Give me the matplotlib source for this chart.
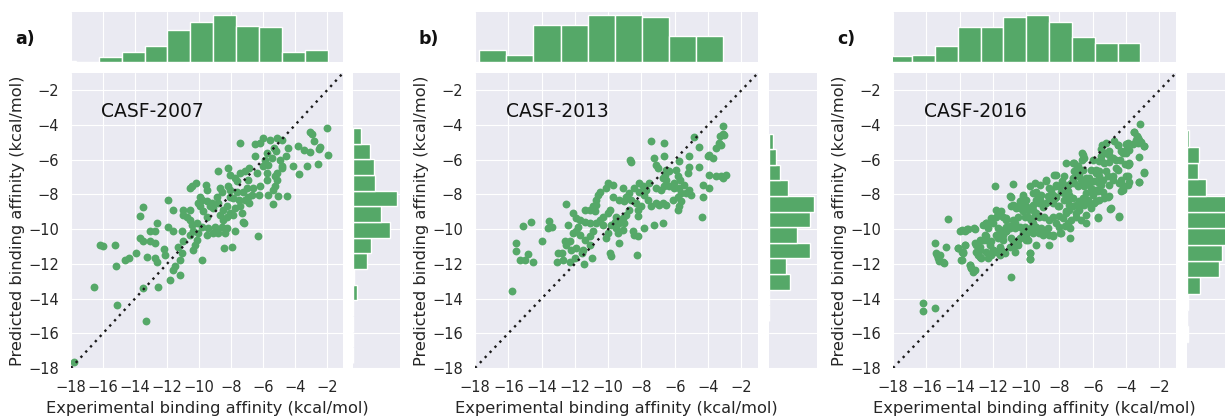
import numpy as np
import matplotlib
matplotlib.use("Agg")
import matplotlib.pyplot as plt
import seaborn as sns

# ---------------- data ----------------
panel_letters = ["a)", "b)", "c)"]
panel_names = ["CASF-2007", "CASF-2013", "CASF-2016"]

a_exp = [-1.98,-3.06,-2.96,-2.8,-2.44,-2.5,-1.92,-3.44,-3.06,-2.54,-3.27,-4.1,-3.73,-3.79,-4.42,-4.56,-4.94,-4.83,-4.8,-5.15,
         -5.1,-4.8,-5.56,-5.98,-5.3,-5.2,-5.77,-5.42,-5.87,-5.67,-5.25,-5.77,-5.98,-6.5,-6.5,-7.44,-6.19,-6.4,-6.85,-7.12,
         -7.44,-7.75,-8.06,-8.79,-8.2,-6.92,-6.6,-6.19,-5.77,-5.15,-5.25,-5.35,-5.67,-6.23,-5.04,-4.52,-6.71,-7.02,-7.27,-7.65,
         -7.6,-6.92,-7.12,-6.85,-7.48,-7.85,-8.06,-8.17,-8.06,-8.69,-8.58,-8.9,-9.21,-8.79,-9.1,-9.31,-7.44,-7.75,-8.27,-8.48,
         -8.06,-7.85,-7.33,-8.69,-8.27,-7.23,-7.19,-8.48,-5.4,-9.58,-9.52,-10.46,-10.56,-10.19,-9.94,-9.83,-10.04,-9.52,-9.94,-9.73,
         -9.52,-10.56,-10.77,-10.98,-11.02,-11.92,-11.65,-10.56,-10.46,-10.15,-9.83,-9.42,-9.0,-8.9,-8.58,-8.27,-7.75,-8.38,-8.79,-9.1,
         -9.52,-10.04,-10.35,-10.56,-10.15,-10.98,-11.08,-11.6,-11.92,-12.65,-12.75,-13.06,-13.69,-13.52,-13.69,-13.52,-13.06,-12.75,-12.19,-12.13,
         -11.29,-11.08,-11.19,-10.4,-10.25,-9.83,-11.5,-11.6,-11.19,-11.81,-12.54,-12.75,-12.65,-13.27,-13.94,-14.6,-14.4,-15.25,-16.19,-15.98,
         -15.2,-16.56,-15.15,-13.48,-13.31,-17.81,-8.44,-7.96,-6.29]
a_pred = [-4.15,-4.42,-4.5,-4.94,-5.27,-5.4,-5.75,-5.46,-5.54,-6.23,-6.38,-6.38,-6.8,-5.23,-5.33,-5.81,-6.0,-6.38,-6.48,-6.77,
          -4.75,-4.85,-4.85,-4.75,-5.33,-5.52,-5.62,-5.9,-6.0,-6.29,-6.96,-6.77,-6.38,-5.81,-5.08,-5.04,-5.04,-6.77,-6.48,-6.63,
          -6.77,-7.06,-6.87,-6.67,-6.48,-7.15,-7.63,-7.54,-7.15,-7.15,-7.54,-7.73,-8.02,-8.02,-8.08,-8.08,-8.02,-7.63,-7.83,-7.83,
          -7.25,-8.12,-8.31,-8.5,-8.31,-8.21,-8.12,-7.54,-7.73,-7.63,-7.83,-8.12,-8.5,-8.5,-8.79,-8.69,-8.69,-8.79,-8.69,-8.88,
          -9.08,-9.17,-9.08,-9.17,-9.27,-9.56,-9.65,-9.46,-8.54,-7.44,-7.73,-7.54,-7.63,-7.35,-8.12,-8.31,-8.5,-8.4,-8.69,-8.98,
          -9.27,-8.88,-9.27,-8.88,-9.17,-8.31,-8.88,-9.46,-9.75,-9.65,-9.85,-9.94,-9.85,-10.04,-9.85,-9.94,-10.13,-10.23,-10.23,-10.23,
          -10.33,-10.23,-10.13,-10.33,-10.62,-10.71,-10.13,-10.13,-9.85,-9.65,-10.13,-10.13,-9.23,-8.75,-10.52,-10.71,-10.71,-10.81,-11.15,-11.48,
          -11.0,-11.37,-11.77,-11.19,-10.9,-11.77,-12.15,-12.35,-12.63,-12.92,-13.31,-11.67,-11.87,-11.58,-11.35,-11.77,-11.67,-10.9,-10.9,-10.96,
          -12.1,-13.31,-14.37,-13.4,-15.27,-17.63,-11.1,-11.0,-10.42]

b_exp = [-3.12,-3.12,-3.02,-3.28,-3.32,-3.22,-3.52,-3.68,-4.02,-3.92,-4.52,-4.82,-5.12,-4.52,-5.12,-5.22,-3.92,-3.52,-3.22,-2.92,
         -3.12,-4.32,-3.92,-4.32,-4.36,-5.72,-5.92,-6.32,-6.56,-6.72,-5.82,-5.68,-6.02,-6.32,-6.02,-5.72,-5.42,-5.12,-5.02,-5.32,
         -5.62,-5.82,-6.12,-5.62,-5.72,-5.82,-6.62,-6.66,-7.42,-7.22,-7.12,-7.02,-6.52,-6.52,-6.62,-6.82,-7.12,-7.52,-7.92,-8.12,
         -7.72,-7.82,-8.12,-8.42,-8.72,-8.92,-9.12,-8.62,-9.02,-9.32,-8.32,-8.02,-7.62,-7.42,-7.12,-6.92,-6.72,-6.52,-8.22,-8.72,
         -8.92,-8.22,-9.12,-9.52,-9.92,-10.02,-9.62,-9.32,-9.02,-9.82,-9.52,-9.12,-9.42,-10.02,-10.12,-8.52,-8.42,-8.22,-7.82,-7.22,
         -6.72,-9.35,-9.92,-9.82,-8.28,-9.72,-10.02,-10.12,-10.52,-10.62,-10.72,-10.72,-10.92,-10.82,-11.12,-11.42,-10.32,-10.52,-10.32,-10.72,
         -11.12,-10.92,-11.12,-11.42,-11.72,-11.92,-12.12,-11.82,-11.92,-12.12,-11.72,-11.42,-11.12,-11.52,-11.92,-12.22,-12.52,-12.62,-12.32,-12.42,
         -12.55,-12.8,-13.0,-13.1,-12.7,-12.3,-11.97,-11.47,-11.6,-10.95,-13.55,-13.35,-13.6,-13.95,-14.66,-15.14,-15.54,-15.54,-15.3,-15.0,
         -14.8,-14.54,-15.78,-8.6,-8.7,-9.72]
b_pred = [-4.04,-4.5,-4.56,-4.65,-5.04,-5.13,-5.33,-5.9,-5.81,-5.71,-5.29,-4.71,-5.81,-6.44,-6.44,-6.77,-6.87,-6.92,-6.96,-6.87,
          -7.06,-7.44,-7.63,-8.12,-9.27,-6.1,-6.58,-6.67,-6.87,-7.06,-6.96,-7.15,-7.35,-7.54,-7.63,-7.63,-7.44,-7.73,-8.02,-7.92,
          -7.92,-8.12,-8.31,-8.4,-8.69,-8.88,-5.81,-5.04,-4.9,-5.9,-6.29,-6.48,-6.58,-7.15,-7.54,-7.73,-7.63,-7.35,-7.54,-7.35,
          -7.73,-8.02,-7.83,-7.63,-7.92,-8.12,-7.63,-8.31,-8.4,-8.31,-8.5,-8.69,-8.31,-8.69,-8.5,-8.6,-8.5,-8.6,-8.88,-8.88,
          -9.17,-9.23,-9.37,-9.27,-8.88,-9.08,-9.56,-9.65,-9.65,-9.75,-9.94,-10.04,-10.23,-10.23,-10.52,-10.13,-10.33,-10.42,-9.94,-9.75,
          -9.65,-10.81,-11.38,-11.54,-11.48,-7.44,-7.35,-7.63,-7.83,-8.02,-8.31,-8.6,-8.69,-8.98,-8.88,-8.88,-9.27,-9.46,-9.75,-9.65,
          -9.65,-10.13,-10.42,-9.56,-9.46,-9.37,-9.08,-9.85,-10.13,-10.23,-10.33,-10.62,-10.9,-11.19,-11.1,-11.19,-10.9,-10.71,-10.71,-9.75,
          -8.54,-11.38,-11.38,-11.92,-11.77,-11.92,-11.67,-11.98,-11.38,-11.67,-9.54,-9.85,-9.94,-10.71,-9.56,-9.81,-10.77,-11.25,-11.77,-11.77,
          -11.44,-11.9,-13.56,-6.15,-6.0,-8.12]

c_exp = [-3.14,-3.5,-3.3,-3.4,-3.1,-2.9,-3.2,-2.9,-3.2,-3.9,-4.0,-4.2,-4.5,-4.7,-5.2,-5.44,-5.5,-5.0,-4.8,-4.34,
         -4.04,-3.8,-4.6,-5.2,-4.8,-3.9,-5.0,-4.3,-4.2,-3.9,-4.16,-5.1,-4.9,-4.4,-5.7,-5.5,-6.0,-5.8,-6.1,-6.6,
         -6.5,-5.6,-5.9,-6.2,-5.5,-5.8,-5.4,-6.0,-6.4,-6.6,-6.8,-6.2,-5.8,-7.1,-6.94,-7.0,-7.6,-6.98,-6.8,-6.4,
         -6.6,-7.1,-6.9,-7.5,-7.6,-8.0,-8.2,-8.3,-8.8,-7.9,-8.4,-8.2,-8.6,-7.4,-7.2,-7.7,-7.2,-7.0,-6.8,-7.4,
         -7.6,-8.0,-8.4,-8.6,-9.2,-9.4,-9.1,-9.4,-9.6,-9.8,-10.2,-10.4,-10.0,-10.4,-10.7,-10.9,-10.8,-11.9,-10.9,-9.6,
         -9.4,-9.2,-8.9,-8.6,-8.4,-8.2,-8.0,-7.5,-7.3,-7.0,-6.4,-8.7,-9.1,-9.4,-9.6,-9.9,-10.2,-10.1,-10.5,-10.8,
         -11.2,-11.5,-11.4,-11.8,-12.0,-12.4,-12.6,-12.3,-11.7,-11.2,-10.7,-10.4,-10.1,-9.8,-10.2,-9.6,-9.2,-9.0,-8.6,-8.4,
         -7.9,-11.2,-11.5,-11.8,-12.4,-12.6,-12.1,-11.4,-10.9,-10.5,-10.0,-10.7,-11.0,-11.5,-11.6,-11.3,-12.0,-12.4,-12.8,-13.1,
         -13.0,-12.8,-12.3,-13.15,-13.5,-13.7,-14.0,-13.7,-13.8,-14.1,-13.9,-13.4,-13.3,-13.2,-14.8,-14.7,-15.5,-15.4,-15.3,-15.0,
         -15.5,-16.2,-16.2,-9.8,-9.8,-9.4,-8.6,-10.9,
         -12.39,-12.09,-11.79,-11.59,-11.19,-10.99,-10.69,-10.99,-10.79,-10.59,-10.29,-10.19,-9.99,-9.89,-9.69,-9.49,-9.59,-9.39,-9.19,-8.99,
         -8.79,-8.69,-9.49,-9.19,-8.83,-8.49,-8.29,-8.19,-8.09,-8.03,-7.80,-7.60,-7.40,-7.50,-7.70,-7.90,-7.70,-8.19,-7.84,-7.50,
         -7.30,-7.20,-7.10,-7.20,-6.90,-6.60,-6.64,-6.64,-6.50,-6.70,-6.40,-6.20,-6.10,-6.00,-6.30,-6.50,-6.80,-7.00,-6.70,-6.40,
         -6.10,-5.90,-5.60,-5.30,-5.70,-5.60,-5.40,-5.10,-4.80,-5.60,-5.80,-5.60,-5.50,-5.30,-5.00,-5.30,-5.04,-4.60,-4.50,-4.30,
         -4.40,-4.20,-4.30,-3.80,-4.00,-3.90,-3.80,-4.00,-3.80,-4.30,-4.50,-4.00,-3.60,-3.30,-2.90,-3.20,-3.36,-3.50,-2.90,-3.20,
         -5.04,-4.96,-5.70,-4.40,
         -13.88,-13.58,-13.09,-15.36,-15.16,-15.26,-14.96,-14.09,-13.88,-13.69,-13.79,-13.88,-13.39,-13.29,-13.09,-12.99,-12.79,-12.89,-12.69,-12.79,
         -12.49,-12.39,-12.19,-11.99,-12.09,-11.79,-11.59,-11.69,-11.39,-11.19,-10.99,-11.49,-10.79,-10.69,-10.49,-10.39,-9.99,-9.89,-9.79,-9.69,
         -9.79,-9.79,-8.89,-8.39,-7.99,-7.69,-7.39,-7.35]
c_pred = [-3.92,-4.42,-4.75,-4.85,-5.0,-5.19,-5.85,-6.77,-7.31,-5.04,-5.42,-5.62,-5.13,-4.94,-5.04,-5.13,-5.38,-5.71,-5.9,-6.0,
          -6.23,-6.23,-6.48,-6.67,-6.96,-6.96,-7.44,-7.35,-7.54,-7.44,-7.73,-8.12,-8.79,-9.27,-9.27,-6.0,-6.0,-6.58,-6.58,-5.71,
          -5.9,-6.96,-7.25,-7.35,-7.44,-7.73,-7.83,-8.02,-7.92,-8.21,-8.4,-8.5,-8.4,-6.19,-6.38,-6.67,-6.19,-6.96,-6.87,-7.06,
          -7.25,-7.35,-7.54,-7.44,-7.83,-7.54,-7.44,-6.87,-7.19,-7.83,-8.02,-8.12,-7.63,-8.02,-8.21,-8.31,-8.69,-8.6,-8.88,-8.88,
          -9.08,-8.69,-8.5,-8.31,-8.5,-8.31,-8.02,-7.83,-7.92,-7.54,-8.12,-8.4,-8.69,-8.79,-8.69,-8.12,-7.41,-7.54,-8.69,-8.88,
          -9.08,-9.27,-9.27,-9.46,-9.27,-9.65,-9.85,-9.65,-9.46,-9.27,-9.62,-9.94,-9.94,-9.85,-9.65,-9.27,-8.98,-9.27,-9.27,-9.46,
          -9.37,-8.98,-9.27,-9.27,-9.65,-9.65,-9.75,-9.94,-9.94,-9.85,-9.94,-9.85,-9.85,-10.04,-10.23,-10.23,-10.23,-10.33,-10.33,-10.42,
          -10.23,-10.13,-10.23,-10.33,-10.42,-10.62,-10.71,-10.62,-10.52,-10.62,-10.62,-10.9,-11.0,-11.19,-11.48,-11.38,-11.19,-11.29,-11.0,-10.81,
          -11.29,-11.58,-11.67,-9.94,-10.0,-10.1,-10.13,-10.9,-11.29,-11.1,-11.77,-12.06,-12.25,-12.44,-11.0,-9.42,-10.81,-11.38,-11.67,-11.92,
          -14.56,-14.23,-14.71,-11.38,-11.73,-10.9,-10.9,-12.73,
          -9.65,-9.36,-8.88,-9.17,-9.46,-9.84,-9.65,-8.11,-8.59,-8.78,-8.50,-8.01,-8.30,-8.88,-9.46,-9.17,-8.59,-7.92,-8.30,-8.73,
          -8.50,-8.11,-7.34,-7.44,-7.25,-7.73,-8.21,-7.53,-8.69,-9.26,-9.38,-8.98,-8.59,-8.30,-7.92,-7.44,-6.96,-6.86,-7.25,-7.82,
          -7.34,-7.05,-6.67,-6.19,-6.38,-6.57,-5.61,-6.00,-7.53,-7.15,-7.25,-7.05,-7.63,-7.92,-8.30,-8.59,-8.69,-9.07,-9.46,-9.17,
          -8.78,-8.50,-8.30,-8.21,-7.82,-7.34,-7.15,-6.96,-7.15,-6.67,-6.77,-6.09,-5.80,-5.61,-5.52,-6.19,-6.15,-6.00,-6.57,-7.15,
          -7.34,-7.63,-7.82,-7.30,-6.96,-6.29,-6.19,-5.61,-5.42,-5.52,-5.13,-5.07,-5.07,-5.04,-5.19,-4.88,-4.65,-4.42,-6.73,-7.30,
          -8.11,-8.84,-9.36,-9.26,
          -10.03,-9.98,-9.98,-11.48,-11.48,-11.86,-11.95,-11.09,-11.29,-10.9,-11.38,-11.76,-12.05,-12.24,-12.34,-10.9,-11.19,-11.48,-11.67,-10.61,
          -10.32,-10.61,-10.9,-11.19,-11.48,-11.29,-11.0,-10.51,-10.32,-10.13,-9.94,-10.03,-10.71,-11.29,-10.9,-10.51,-10.32,-10.61,-10.13,-9.94,
          -11.38,-11.71,-10.22,-10.32,-10.22,-9.84,-9.94,-10.48]

# marginal histograms: first bin edge, bin width, counts (ascending)
a_top_start, a_top_width = -19.12, 1.43
a_top_counts = [1, 0, 4, 8, 13, 26, 32, 38, 29, 28, 8, 10]
a_right_start, a_right_width = -17.715, 0.903
a_right_counts = [0.3, 0, 0, 0.3, 3, 1, 12, 15, 31, 24, 37, 19, 18, 14, 7]

b_top_start, b_top_width = -17.74, 1.627
b_top_counts = [10, 6, 30, 30, 38, 38, 36, 21, 21]
b_right_start, b_right_width = -15.276, 0.898
b_right_counts = [0.3, 0.3, 17, 14, 34, 23, 34, 37, 16, 9, 6, 3]

c_top_start, c_top_width = -18.23, 1.372
c_top_counts = [5, 6, 13, 28, 28, 36, 38, 32, 20, 15, 15]
c_right_start, c_right_width = -16.53, 0.94
c_right_counts = [1.2, 0, 0.9, 11.9, 29.1, 31.8, 36, 38, 40, 17.2, 10.1, 11, 1.5]

tick_values = [-18, -16, -14, -12, -10, -8, -6, -4, -2]
axis_limits = [-18, -1]

# ---------------- style ----------------
sns.set_style("darkgrid")
plt.rcParams["font.family"] = ["DejaVu Sans"]
GREEN = "#55A868"

W, H = 1225, 416
fig = plt.figure(figsize=(W / 100, H / 100), dpi=100)


def rect(l, t, r, b):
    return [l / W, 1 - b / H, (r - l) / W, (b - t) / H]


layouts = [
    dict(main=(71, 73, 343, 368), top=(71, 12, 343, 62), right=(353, 73, 400, 368), lx=15),
    dict(main=(475, 73, 758, 368), top=(475, 12, 758, 62), right=(769, 73, 817, 368), lx=418),
    dict(main=(893, 73, 1176, 368), top=(893, 12, 1176, 62), right=(1187, 73, 1235, 368), lx=837),
]

panels = [
    (a_exp, a_pred, a_top_start, a_top_width, a_top_counts, a_right_start, a_right_width, a_right_counts),
    (b_exp, b_pred, b_top_start, b_top_width, b_top_counts, b_right_start, b_right_width, b_right_counts),
    (c_exp, c_pred, c_top_start, c_top_width, c_top_counts, c_right_start, c_right_width, c_right_counts),
]

for i, (lay, pan) in enumerate(zip(layouts, panels)):
    xe, yp, ts, tw, tc, rs, rw, rc = pan
    ax = fig.add_axes(rect(*lay["main"]))
    axt = fig.add_axes(rect(*lay["top"]), sharex=ax)
    axr = fig.add_axes(rect(*lay["right"]), sharey=ax)

    ax.scatter(xe, yp, s=32, color=GREEN, linewidths=0, zorder=2)
    ax.plot(axis_limits, axis_limits, linestyle=(0, (1, 2)), color="#1a1a1a", linewidth=1.7, zorder=3)
    ax.set_xlim(axis_limits)
    ax.set_ylim(axis_limits)
    ax.set_xticks(tick_values)
    ax.set_yticks(tick_values)
    ax.tick_params(axis="both", labelsize=10.5, length=0)
    ax.tick_params(axis="x", pad=8.8)
    ax.tick_params(axis="y", pad=8.4)
    ax.set_xlabel("Experimental binding affinity (kcal/mol)", fontsize=11.7, labelpad=4)
    ax.set_ylabel("Predicted binding affinity (kcal/mol)", fontsize=11.7, labelpad=2.5)
    ax.text(-16.15, -3.2, panel_names[i], fontsize=13.5, ha="left", va="center", color="#111111")

    # top histogram
    tedges = ts + tw * np.arange(len(tc) + 1)
    axt.bar(tedges[:-1], tc, width=tw, align="edge", color=GREEN, edgecolor="white", linewidth=1)
    axt.set_ylim(0, max(tc) * 1.064)
    axt.tick_params(labelbottom=False, labelleft=False, length=0)
    axt.yaxis.grid(False)

    # right histogram
    redges = rs + rw * np.arange(len(rc) + 1)
    axr.barh(redges[:-1], rc, height=rw, align="edge", color=GREEN, edgecolor="white", linewidth=1)
    axr.set_xlim(0, max(rc) * 1.075)
    axr.tick_params(labelbottom=False, labelleft=False, length=0)
    axr.xaxis.grid(False)

    for a in (ax, axt, axr):
        for sp in a.spines.values():
            sp.set_visible(False)

    fig.text(lay["lx"] / W, 1 - 39 / H, panel_letters[i], fontsize=12.5, fontweight="bold",
             ha="left", va="center", color="#111111")

fig.savefig("out.png", dpi=100)
